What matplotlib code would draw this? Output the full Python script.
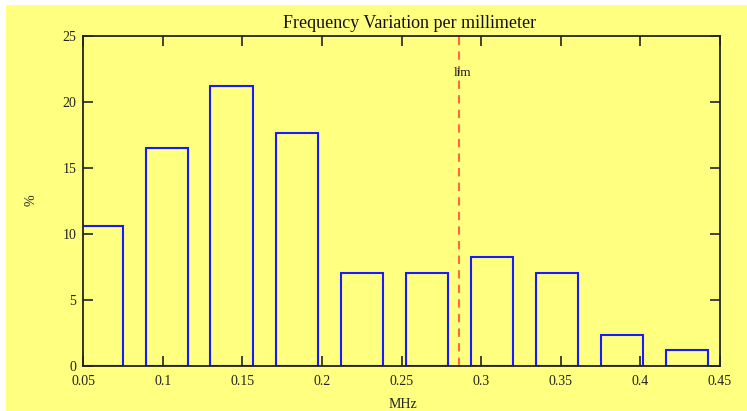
import matplotlib
matplotlib.use("Agg")
import matplotlib.pyplot as plt
from matplotlib.patches import Rectangle

# Data
bin_centers = [0.0617, 0.1025, 0.1432, 0.1842, 0.2251, 0.2658, 0.3067, 0.3477, 0.3885, 0.4293]
percent = [10.59, 16.47, 21.18, 17.65, 7.06, 7.06, 8.24, 7.06, 2.35, 1.18]
bar_width = 0.0267
lim_value = 0.2858
xticks = [0.05, 0.1, 0.15, 0.2, 0.25, 0.3, 0.35, 0.4, 0.45]
xticklabels = ["0.05", "0.1", "0.15", "0.2", "0.25", "0.3", "0.35", "0.4", "0.45"]
yticks = [0, 5, 10, 15, 20, 25]
title = "Frequency Variation per millimeter"

W, H = 747, 411
fig = plt.figure(figsize=(W/100, H/100), dpi=100, facecolor="white")
plt.rcParams['font.family'] = ['Liberation Serif', 'DejaVu Serif']
bg = "#ffff80"
fig.patches.append(Rectangle((6/W, 0), 1 - 6/W, 1 - 5/H, transform=fig.transFigure,
                             facecolor=bg, edgecolor="none", zorder=-10))

ax = fig.add_axes([83.3/W, 1 - 365.7/H, (720 - 83.3)/W, (365.7 - 35.7)/H])
ax.set_facecolor(bg)
ax.bar(bin_centers, percent, width=bar_width, facecolor="none", edgecolor="#1a1aff",
       linewidth=1.5, clip_on=True)
ax.axvline(lim_value, color="#ff6a3d", linestyle=(0, (4, 3)), linewidth=1.5)
ax.text(lim_value + 0.0025, 22.2, "lim", fontsize=9.5, ha="center", va="center", color="#222222")

ax.set_xlim(0.05, 0.45)
ax.set_ylim(0, 25)
ax.set_xticks(xticks)
ax.set_xticklabels(xticklabels)
ax.set_yticks(yticks)
ax.tick_params(direction="in", length=7.5, width=1.2, top=True, right=True,
               labelsize=10, colors="#222222")
ax.tick_params(axis="x", pad=7)
ax.tick_params(axis="y", pad=5)
for s in ax.spines.values():
    s.set_linewidth(1.3)
    s.set_color("#222222")

fig.text(410/W, 1 - 24/H, title, fontsize=13, ha="center", va="center", color="#111111")
fig.text(403/W, 1 - 404/H, "MHz", fontsize=10, ha="center", va="center", color="#222222")
fig.text(31/W, 1 - 200/H, "%", fontsize=10, ha="center", va="center", rotation=90, color="#222222")

fig.savefig("out.png", dpi=100, facecolor=fig.get_facecolor())
